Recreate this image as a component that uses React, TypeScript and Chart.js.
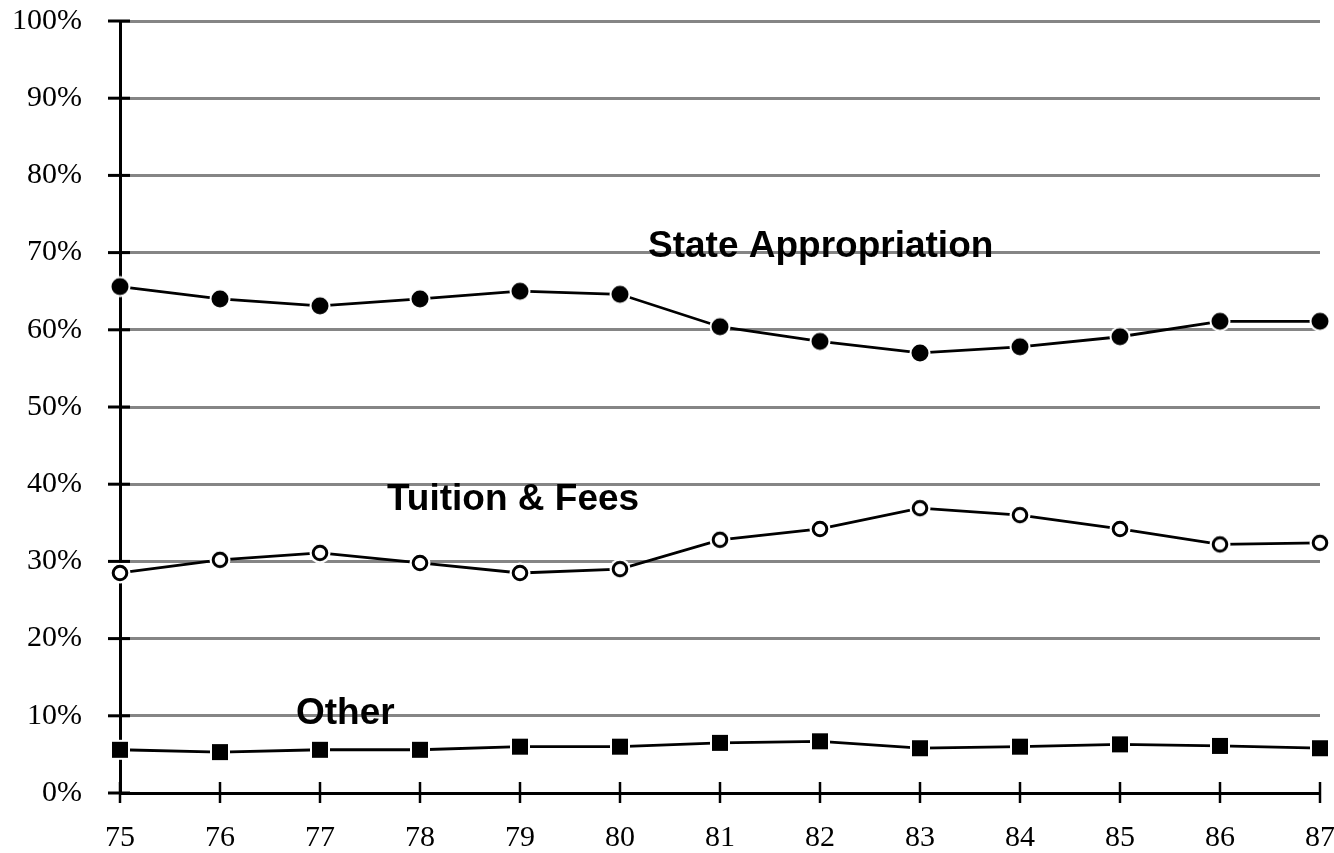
import React, { useEffect, useRef } from "react";
import { Chart, registerables } from "chart.js";

Chart.register(...registerables);

const years = ["75", "76", "77", "78", "79", "80", "81", "82", "83", "84", "85", "86", "87"];
const stateAppropriation = [65.6, 64.0, 63.1, 64.0, 65.0, 64.6, 60.4, 58.5, 57.0, 57.8, 59.1, 61.1, 61.1];
const tuitionFees = [28.5, 30.2, 31.1, 29.8, 28.5, 29.0, 32.8, 34.2, 36.9, 36.0, 34.2, 32.2, 32.4];
const other = [5.6, 5.3, 5.6, 5.6, 6.0, 6.0, 6.5, 6.7, 5.8, 6.0, 6.3, 6.1, 5.8];

const seriesLabels = [
  { text: "State Appropriation", xIndex: 5.28, y: 69.4 },
  { text: "Tuition & Fees", xIndex: 2.67, y: 36.6 },
  { text: "Other", xIndex: 1.76, y: 9.0 },
];

function makeMarker(kind: "filled" | "open" | "square"): HTMLCanvasElement {
  const c = document.createElement("canvas");
  const s = 24;
  c.width = s;
  c.height = s;
  const ctx = c.getContext("2d")!;
  const m = s / 2;
  if (kind === "square") {
    ctx.fillStyle = "#fff";
    ctx.fillRect(m - 10, m - 10, 20, 20);
    ctx.fillStyle = "#000";
    ctx.fillRect(m - 8, m - 8, 16, 16);
  } else {
    ctx.fillStyle = "#fff";
    ctx.beginPath();
    ctx.arc(m, m, 10.5, 0, Math.PI * 2);
    ctx.fill();
    if (kind === "filled") {
      ctx.fillStyle = "#000";
      ctx.beginPath();
      ctx.arc(m, m, 8.5, 0, Math.PI * 2);
      ctx.fill();
    } else {
      ctx.strokeStyle = "#000";
      ctx.lineWidth = 3;
      ctx.beginPath();
      ctx.arc(m, m, 6.8, 0, Math.PI * 2);
      ctx.stroke();
    }
  }
  return c;
}

const tickPlugin = {
  id: "crossTicks",
  afterDraw(chart: any) {
    const ctx = chart.ctx;
    const xs = chart.scales.x;
    const ys = chart.scales.y;
    const area = chart.chartArea;
    ctx.save();
    ctx.strokeStyle = "#000";
    ctx.lineWidth = 3;
    ys.ticks.forEach((t: any) => {
      const py = ys.getPixelForValue(t.value);
      ctx.beginPath();
      ctx.moveTo(area.left - 12, py);
      ctx.lineTo(area.left + 10, py);
      ctx.stroke();
    });
    ctx.lineWidth = 2.5;
    years.forEach((_, i) => {
      const px = xs.getPixelForValue(i);
      ctx.beginPath();
      ctx.moveTo(px, area.bottom - 11);
      ctx.lineTo(px, area.bottom + 10);
      ctx.stroke();
    });
    ctx.fillStyle = "#000";
    ctx.font = "bold 37px 'Liberation Sans', Arial, sans-serif";
    ctx.textAlign = "left";
    ctx.textBaseline = "alphabetic";
    seriesLabels.forEach((l) => {
      const px = xs.left + (xs.right - xs.left) * (l.xIndex / (years.length - 1));
      const py = ys.getPixelForValue(l.y);
      ctx.fillText(l.text, px, py);
    });
    ctx.restore();
  },
};

export default function App() {
  const ref = useRef<HTMLCanvasElement>(null);
  useEffect(() => {
    document.body.style.margin = "0";
    const filled = makeMarker("filled");
    const open = makeMarker("open");
    const square = makeMarker("square");
    const chart = new Chart(ref.current!, {
      type: "line",
      data: {
        labels: years,
        datasets: [
          {
            label: "State Appropriation",
            data: stateAppropriation,
            borderColor: "#000",
            borderWidth: 2.8,
            tension: 0,
            pointStyle: filled as any,
            pointRadius: 10,
          },
          {
            label: "Tuition & Fees",
            data: tuitionFees,
            borderColor: "#000",
            borderWidth: 2.8,
            tension: 0,
            pointStyle: open as any,
            pointRadius: 10,
          },
          {
            label: "Other",
            data: other,
            borderColor: "#000",
            borderWidth: 2.8,
            tension: 0,
            pointStyle: square as any,
            pointRadius: 10,
          },
        ],
      },
      options: {
        responsive: false,
        animation: false,
        events: [],
        layout: { padding: { top: 21, right: 14, left: 0, bottom: 0 } },
        plugins: { legend: { display: false }, tooltip: { enabled: false } },
        scales: {
          x: {
            type: "category",
            offset: false,
            grid: { display: false, drawTicks: false },
            border: { display: true, color: "#000", width: 3 },
            ticks: {
              color: "#000",
              padding: 27,
              maxRotation: 0,
              autoSkip: false,
              font: { family: "'Liberation Serif', 'Times New Roman', serif", size: 30 },
            },
            afterFit(scale: any) {
              scale.height = 60;
              scale.paddingLeft = 0;
              scale.paddingRight = 0;
            },
          },
          y: {
            min: 0,
            max: 100,
            grid: { color: "#858585", lineWidth: 3, drawTicks: false },
            border: { display: true, color: "#000", width: 3 },
            ticks: {
              stepSize: 10,
              color: "#000",
              padding: 38,
              callback: (v: any) => v + "%",
              font: { family: "'Liberation Serif', 'Times New Roman', serif", size: 30 },
            },
            afterFit(scale: any) {
              scale.width = 120;
              scale.paddingTop = 0;
              scale.paddingBottom = 0;
            },
          },
        },
      },
      plugins: [tickPlugin],
    });
    return () => chart.destroy();
  }, []);
  return (
    <div style={{ position: "fixed", left: 0, top: 0, width: 1334, height: 853, background: "#fff" }}>
      <canvas ref={ref} width={1334} height={853} />
    </div>
  );
}
